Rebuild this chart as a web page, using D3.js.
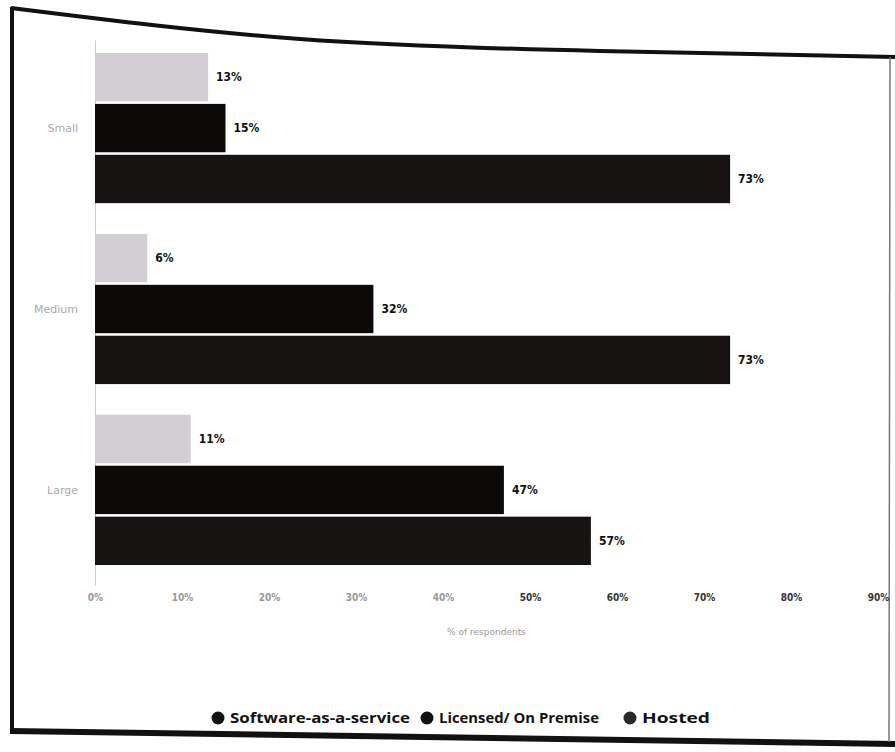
<!DOCTYPE html>
<html>
<head>
<meta charset="utf-8">
<script src="https://cdn.jsdelivr.net/npm/d3@7"></script>
<style>
  html, body { margin: 0; padding: 0; background: #fff; }
  svg { display: block; }
</style>
</head>
<body>
<svg id="chart" width="895" height="752"></svg>
<script>
// Company size groups and deployment models
const categories = ["Small", "Medium", "Large"];
const series = ["Software-as-a-service", "Licensed/ On Premise", "Hosted"];
const saasValues = [13, 6, 11];
const licensedValues = [15, 32, 47];
const hostedValues = [73, 73, 57];
const tickValues = [0, 10, 20, 30, 40, 50, 60, 70, 80, 90];
const tickLabels = ["0%", "10%", "20%", "30%", "40%", "50%", "60%", "70%", "80%", "90%"];

const seriesValues = [saasValues, licensedValues, hostedValues];
const colors = ["#d3ced4", "#0c0909", "#171313"];
const legendColors = ["#111", "#111", "#2a2727"];

const rows = [];
categories.forEach((c, i) => {
  series.forEach((s, j) => rows.push({ category: c, series: s, value: seriesValues[j][i] }));
});

const svg = d3.select("#chart");
const condensed = "DejaVu Sans Condensed, DejaVu Sans, sans-serif";

// Frame around the figure
const frameTop = [[11, 8], [300, 39], [600, 51], [895, 57]];
svg.append("path")
  .attr("d", d3.line().curve(d3.curveNatural)(frameTop))
  .attr("fill", "none").attr("stroke", "#111").attr("stroke-width", 4);
svg.append("line").attr("x1", 12).attr("y1", 7).attr("x2", 12).attr("y2", 732)
  .attr("stroke", "#111").attr("stroke-width", 4);
svg.append("line").attr("x1", 10).attr("y1", 731).attr("x2", 895).attr("y2", 744)
  .attr("stroke", "#111").attr("stroke-width", 6);
svg.append("line").attr("x1", 890).attr("y1", 57).attr("x2", 889).attr("y2", 742)
  .attr("stroke", "#777").attr("stroke-width", 1.5);

// Scales
const x = d3.scaleLinear().domain([0, 90]).range([95, 878]);
const y0 = d3.scaleBand().domain(categories).range([53, 565]).paddingInner(0.17).paddingOuter(0);
const y1 = d3.scaleBand().domain(series).range([0, y0.bandwidth()]).paddingInner(0.05);

// Vertical axis line
const yAxisScale = d3.scaleLinear().range([40, 585]);
svg.append("g").attr("transform", "translate(95,0)")
  .call(d3.axisLeft(yAxisScale).tickValues([]).tickSizeOuter(0))
  .call(g => g.select(".domain").attr("stroke", "#ccc"));

// Category labels
svg.append("g").selectAll("text").data(categories).join("text")
  .attr("x", 78)
  .attr("y", d => y0(d) + y0.bandwidth() / 2)
  .attr("dy", "0.35em")
  .attr("text-anchor", "end")
  .attr("font-family", "DejaVu Sans, sans-serif")
  .attr("font-size", 11)
  .attr("fill", "#aaa")
  .text(d => d);

// Bars
svg.append("g").selectAll("rect").data(rows).join("rect")
  .attr("x", x(0))
  .attr("y", d => y0(d.category) + y1(d.series))
  .attr("width", d => x(d.value) - x(0))
  .attr("height", y1.bandwidth())
  .attr("fill", d => colors[series.indexOf(d.series)]);

// Value labels
svg.append("g").selectAll("text").data(rows).join("text")
  .attr("x", d => x(d.value) + 8)
  .attr("y", d => y0(d.category) + y1(d.series) + y1.bandwidth() / 2)
  .attr("dy", "0.35em")
  .attr("font-family", condensed)
  .attr("font-stretch", "condensed")
  .attr("font-weight", "bold")
  .attr("font-size", 12)
  .attr("fill", "#111")
  .text(d => d.value + "%");

// Bottom axis
svg.append("g").attr("transform", "translate(0,588)")
  .call(d3.axisBottom(x).tickValues(tickValues).tickFormat((d, i) => tickLabels[i]).tickSize(0).tickPadding(6))
  .call(g => g.select(".domain").remove())
  .call(g => g.selectAll("text")
    .attr("font-family", condensed)
    .attr("font-stretch", "condensed")
    .attr("font-weight", "bold")
    .attr("font-size", 10)
    .attr("fill", (d, i) => i < 5 ? "#999" : "#333"));

svg.append("text")
  .attr("x", (x(0) + x(90)) / 2)
  .attr("y", 635)
  .attr("text-anchor", "middle")
  .attr("font-family", "DejaVu Sans, sans-serif")
  .attr("font-size", 9)
  .attr("fill", "#999")
  .text("% of respondents");

// Legend
const legendX = [218, 427, 630];
const legend = svg.append("g").selectAll("g").data(series).join("g")
  .attr("transform", (d, i) => `translate(${legendX[i]},718)`);
legend.append("circle").attr("r", 6.5).attr("fill", (d, i) => legendColors[i]);
legend.append("text")
  .attr("x", 12)
  .attr("dy", "0.35em")
  .attr("font-family", "Open Sans, sans-serif")
  .attr("font-weight", 700)
  .attr("font-size", 14)
  .attr("textLength", (d, i) => [180, 160, 68][i])
  .attr("lengthAdjust", "spacingAndGlyphs")
  .attr("fill", "#111")
  .text(d => d);
</script>
</body>
</html>
